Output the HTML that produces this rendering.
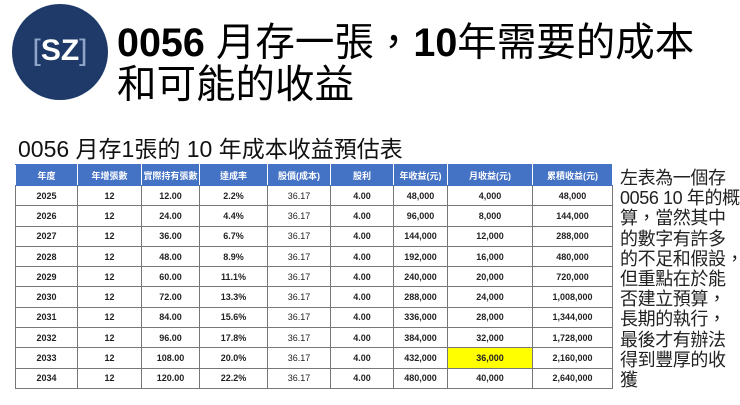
<!DOCTYPE html>
<html><head><meta charset="utf-8"><style>
body{margin:0;width:740px;height:405px;background:#fff;position:relative;overflow:hidden;font-family:"Liberation Sans","Noto Sans CJK TC",sans-serif;}
.circ{position:absolute;left:12px;top:4px;width:96px;height:96px;border-radius:50%;background:#1f3a68;}
.circ span{position:absolute;left:0;right:0;top:30px;text-align:center;font-size:30px;font-weight:bold;color:#fff;}
.circ b{color:#8ea4c8;font-weight:normal}
.t1{position:absolute;left:117px;top:22px;font-size:39.5px;line-height:42px;color:#000;white-space:nowrap}
.t2{position:absolute;left:117px;top:64px;font-size:39.5px;line-height:42px;color:#000;white-space:nowrap}
.sub{position:absolute;left:18px;top:130px;font-size:23px;color:#111;white-space:nowrap}
table{position:absolute;left:15px;top:164px;border-collapse:collapse;font-size:9px;font-weight:bold;color:#222}
td,th{border:1px solid #777;text-align:center;padding:0;height:19.3px}
th{background:#4472c4;color:#fff;height:20px;border-color:#4472c4 #fff}
.r{position:absolute;left:620px;top:168px;font-size:18px;letter-spacing:-0.4px;line-height:20.2px;color:#222;white-space:nowrap}
</style></head><body>
<div class="circ"><span><b>[</b>SZ<b>]</b></span></div>
<div class="t1"><b>0056</b> 月存一張，<b>10</b>年需要的成本</div>
<div class="t2">和可能的收益</div>
<div class="sub">0056 月存1張的 10 年成本收益預估表</div>
<table>
<colgroup><col style="width:62px"><col style="width:64px"><col style="width:58px"><col style="width:68px"><col style="width:63px"><col style="width:63px"><col style="width:54px"><col style="width:85px"><col style="width:80px"></colgroup>
<tr><th>年度</th><th>年增張數</th><th>實際持有張數</th><th>達成率</th><th>股價(成本)</th><th>股利</th><th>年收益(元)</th><th>月收益(元)</th><th>累積收益(元)</th></tr>
<tr><td>2025</td><td>12</td><td>12.00</td><td>2.2%</td><td style="font-weight:normal">36.17</td><td>4.00</td><td>48,000</td><td>4,000</td><td>48,000</td></tr>
<tr><td>2026</td><td>12</td><td>24.00</td><td>4.4%</td><td style="font-weight:normal">36.17</td><td>4.00</td><td>96,000</td><td>8,000</td><td>144,000</td></tr>
<tr><td>2027</td><td>12</td><td>36.00</td><td>6.7%</td><td style="font-weight:normal">36.17</td><td>4.00</td><td>144,000</td><td>12,000</td><td>288,000</td></tr>
<tr><td>2028</td><td>12</td><td>48.00</td><td>8.9%</td><td style="font-weight:normal">36.17</td><td>4.00</td><td>192,000</td><td>16,000</td><td>480,000</td></tr>
<tr><td>2029</td><td>12</td><td>60.00</td><td>11.1%</td><td style="font-weight:normal">36.17</td><td>4.00</td><td>240,000</td><td>20,000</td><td>720,000</td></tr>
<tr><td>2030</td><td>12</td><td>72.00</td><td>13.3%</td><td style="font-weight:normal">36.17</td><td>4.00</td><td>288,000</td><td>24,000</td><td>1,008,000</td></tr>
<tr><td>2031</td><td>12</td><td>84.00</td><td>15.6%</td><td style="font-weight:normal">36.17</td><td>4.00</td><td>336,000</td><td>28,000</td><td>1,344,000</td></tr>
<tr><td>2032</td><td>12</td><td>96.00</td><td>17.8%</td><td style="font-weight:normal">36.17</td><td>4.00</td><td>384,000</td><td>32,000</td><td>1,728,000</td></tr>
<tr><td>2033</td><td>12</td><td>108.00</td><td>20.0%</td><td style="font-weight:normal">36.17</td><td>4.00</td><td>432,000</td><td style="background:#ffff00">36,000</td><td>2,160,000</td></tr>
<tr><td>2034</td><td>12</td><td>120.00</td><td>22.2%</td><td style="font-weight:normal">36.17</td><td>4.00</td><td>480,000</td><td>40,000</td><td>2,640,000</td></tr>
</table>
<div class="r">左表為一個存<br>0056 10 年的概<br>算，當然其中<br>的數字有許多<br>的不足和假設，<br>但重點在於能<br>否建立預算，<br>長期的執行，<br>最後才有辦法<br>得到豐厚的收<br>獲</div>
</body></html>
